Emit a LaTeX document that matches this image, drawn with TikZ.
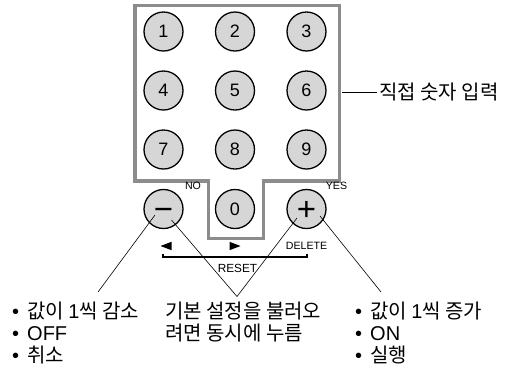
\documentclass[tikz,border=0pt]{standalone}
\usepackage{fontspec}
\setmainfont{Liberation Sans}
\newfontfamily\cjk{Noto Sans CJK KR}
\definecolor{keyfill}{RGB}{214,214,214}
\definecolor{framegray}{RGB}{140,140,140}
\begin{document}
\begin{tikzpicture}[x=1pt,y=-1pt,
  key/.style={circle, draw=black, line width=1.3pt, fill=keyfill, minimum size=39pt, inner sep=0pt, font=\fontsize{18}{20}\selectfont},
  sign/.style={anchor=base, inner sep=0pt, font=\fontsize{33}{36}\selectfont},
  small/.style={inner sep=0pt, font=\fontsize{10.6}{12}\selectfont},
  big/.style={anchor=base west, inner sep=0pt, font=\fontsize{20}{24}\selectfont},
  lead/.style={line width=0.6pt},
  keyframe/.style={draw=framegray, line width=3.5pt}]
\useasboundingbox (0,0) rectangle (514,368);
% frame
\draw[keyframe] (135,5.5) -- (339.5,5.5) -- (339.5,181) -- (263.5,181) -- (263.5,238.5)
  -- (208.3,238.5) -- (208.3,181) -- (135,181) -- cycle;
% keys
\node[key] (k1) at (163.5,31.5) {1};
\node[key] (k2) at (235,31.5) {2};
\node[key] (k3) at (306.5,31.5) {3};
\node[key] (k4) at (163.5,90.5) {4};
\node[key] (k5) at (235,90.5) {5};
\node[key] (k6) at (306.5,90.5) {6};
\node[key] (k7) at (163.5,149.5) {7};
\node[key] (k8) at (235,149.5) {8};
\node[key] (k9) at (306.5,149.5) {9};
\node[key] (km) at (163.5,209) {};
\node[key] (k0) at (235,209) {0};
\node[key] (kp) at (306.5,209) {};
\node[sign] (minus) at (163.5,220.6) {−};
\node[sign] (plus) at (306.5,220.6) {+};
% small labels
\node[small] (no) at (193,186) {NO};
\node[small] (yes) at (336.5,186) {YES};
\node[small] (del) at (306.5,245.8) {DELETE};
\node[small, font=\fontsize{11.8}{13}\selectfont] (reset) at (237.5,268.5) {RESET};
% arrows
\fill (160.5,246) -- (171.5,241.8) -- (171.5,250.2) -- cycle;
\fill (240.5,246) -- (229.5,241.8) -- (229.5,250.2) -- cycle;
% bracket
\draw[line width=1.8pt] (163,254) -- (163,257) -- (307,257) -- (307,254);
% direct entry label
\coordinate (dstart) at (342,92);
\node[anchor=west, inner sep=2pt, font=\fontsize{20}{24}\selectfont] (dtext) at (377,92) {\cjk 직접 숫자 입력};
\draw[lead] (dstart) -- (dtext.west);
% leader lines
\coordinate (a1) at (155,215);
\coordinate (b1) at (98,292);
\coordinate (a2) at (171.5,220);
\coordinate (apex) at (237,296.5);
\coordinate (a3) at (297,218);
\coordinate (a4) at (320,216);
\coordinate (b4) at (381,292);
\draw[lead] (a1) -- (b1);
\draw[lead] (a2) -- (apex) -- (a3);
\draw[lead] (a4) -- (b4);
% texts
\node[big] (l1) at (12,318) {•\hspace{8pt}{\cjk 값이 }1{\cjk 씩 감소}};
\node[big] (l2) at (12,340) {•\hspace{8pt}OFF};
\node[big] (l3) at (12,362) {•\hspace{8pt}{\cjk 취소}};
\node[big] (m1) at (165,318) {\cjk 기본 설정을 불러오};
\node[big] (m2) at (165,340) {\cjk 려면 동시에 누름};
\node[big] (r1) at (355,318) {•\hspace{8pt}{\cjk 값이 }1{\cjk 씩 증가}};
\node[big] (r2) at (355,340) {•\hspace{8pt}ON};
\node[big] (r3) at (355,362) {•\hspace{8pt}{\cjk 실행}};
\end{tikzpicture}
\end{document}
